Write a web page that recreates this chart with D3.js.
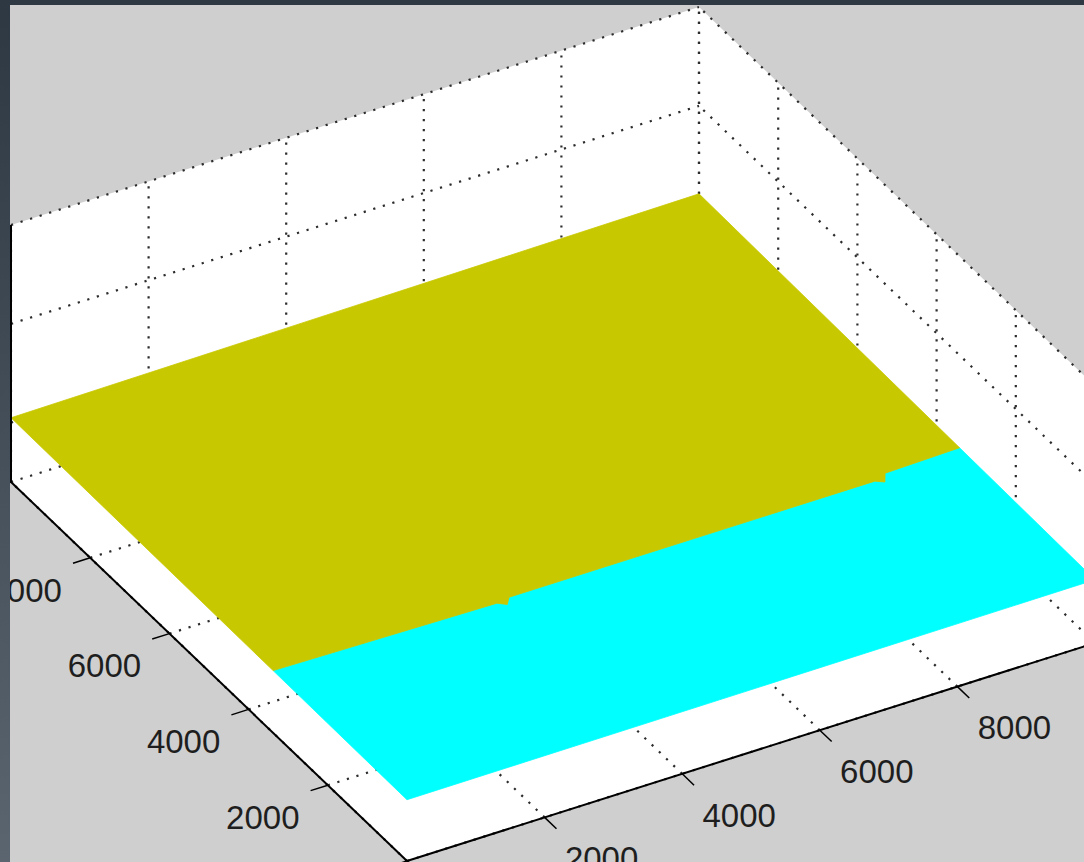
<!DOCTYPE html>
<html>
<head>
<meta charset="utf-8">
<script src="https://cdn.jsdelivr.net/npm/d3@7"></script>
<style>
  html, body { margin: 0; padding: 0; background: #cfcfcf; }
  svg { display: block; }
</style>
</head>
<body>
<svg id="chart" width="1084" height="862"></svg>
<script>
// ---- axis limits and ticks ----
const xLimits = [0, 10000];          // floor axis rising to the right
const yLimits = [0, 10000];          // floor axis rising to the left
const zLimits = [-0.6, 2];
const xTicks = [0, 2000, 4000, 6000, 8000, 10000];
const yTicks = [0, 2000, 4000, 6000, 8000, 10000];
const zTicks = [0, 1, 2];
// labelled ticks inside the visible frame
const xLabelTicks = [2000, 4000, 6000, 8000];
const yLabelTicks = [2000, 4000, 6000, 8000];
const xTickLabels = ["2000", "4000", "6000", "8000"];
const yTickLabels = ["2000", "4000", "6000", "8000"];

// ---- surface: corner heights on a coarse grid ----
const surfX = [0, 10000];
const surfY = [0, 10000];
const surfZ = [
  [0.02, 0.04],   // y = 0     (x = 0, x = 10000)
  [0.05, 0.11]    // y = 10000 (x = 0, x = 10000)
];

// boundary between the two colour bands of the surface
const bandEdgeX = [0, 3200, 3300, 3400, 8700, 8800, 8900, 10000];
const bandEdgeY = [3380, 3290, 3200, 3330, 3300, 3220, 3390, 3420];
const bandColors = ["#00ffff", "#c8c800"];   // low band, high band

// ---- view (orthographic camera expressed as screen basis vectors) ----
const W = 1084, H = 862;
const origin = [407, 861];      // (xmin, ymin, zmin)
const xVec = [688, -218];
const yVec = [-396, -379];
const zVec = [0, -257];

const sx = d3.scaleLinear().domain(xLimits).range([0, 1]);
const sy = d3.scaleLinear().domain(yLimits).range([0, 1]);
const sz = d3.scaleLinear().domain(zLimits).range([0, 1]);

function P(x, y, z) {
  const a = sx(x), b = sy(y), c = sz(z);
  return [origin[0] + a * xVec[0] + b * yVec[0] + c * zVec[0],
          origin[1] + a * xVec[1] + b * yVec[1] + c * zVec[1]];
}

const line = d3.line();
const svg = d3.select("#chart");

svg.append("rect").attr("width", W).attr("height", H).attr("fill", "#cfcfcf");

const [x0, x1] = xLimits, [y0, y1] = yLimits, [z0, z1] = zLimits;

// axes box background (walls + floor seen from above)
svg.append("path")
  .attr("d", line([P(x0, y1, z1), P(x1, y1, z1), P(x1, y0, z1),
                   P(x1, y0, z0), P(x0, y0, z0), P(x0, y1, z0)]) + "Z")
  .attr("fill", "#ffffff");

// dotted grid
const grid = svg.append("g")
  .attr("fill", "none")
  .attr("stroke", "#2c2c2c")
  .attr("stroke-width", 2.2)
  .attr("stroke-dasharray", "2.2 7.8");

// back wall at y = ymax
xTicks.forEach(t => grid.append("path").attr("d", line([P(t, y1, z0), P(t, y1, z1)])));
zTicks.forEach(t => grid.append("path").attr("d", line([P(x0, y1, t), P(x1, y1, t)])));
// back wall at x = xmax
yTicks.forEach(t => grid.append("path").attr("d", line([P(x1, t, z0), P(x1, t, z1)])));
zTicks.forEach(t => grid.append("path").attr("d", line([P(x1, y0, t), P(x1, y1, t)])));
// floor
xTicks.forEach(t => grid.append("path").attr("d", line([P(t, y0, z0), P(t, y1, z0)])));
yTicks.forEach(t => grid.append("path").attr("d", line([P(x0, t, z0), P(x1, t, z0)])));

// ---- surface ----
function zAt(x, y) {
  const u = (x - surfX[0]) / (surfX[1] - surfX[0]);
  const v = (y - surfY[0]) / (surfY[1] - surfY[0]);
  return (1 - v) * ((1 - u) * surfZ[0][0] + u * surfZ[0][1]) +
         v * ((1 - u) * surfZ[1][0] + u * surfZ[1][1]);
}
const edge = bandEdgeX.map((x, i) => [x, bandEdgeY[i]]);
const bands = [
  [[surfX[0], surfY[0]], [surfX[1], surfY[0]], ...edge.slice().reverse()],
  [...edge, [surfX[1], surfY[1]], [surfX[0], surfY[1]]]
];
svg.append("g").selectAll("path")
  .data(bands)
  .join("path")
  .attr("d", d => line(d.map(([x, y]) => P(x, y, zAt(x, y)))) + "Z")
  .attr("fill", (d, i) => bandColors[i])
  .attr("stroke", (d, i) => bandColors[i])
  .attr("stroke-width", 0.8)
  .attr("stroke-linejoin", "round");

// ---- axis lines and ticks ----
const axes = svg.append("g").attr("stroke", "#000").attr("fill", "none");
axes.append("path").attr("stroke-width", 2).attr("d", line([P(x0, y0, z0), P(x1, y0, z0)]));
axes.append("path").attr("stroke-width", 2).attr("d", line([P(x0, y0, z0), P(x0, y1, z0)]));
axes.append("path").attr("stroke-width", 2).attr("d", line([P(x0, y1, z0), P(x0, y1, z1)]));

const xTickLen = 300, yTickLen = 250;
xTicks.forEach(t => axes.append("path").attr("stroke-width", 1.5)
  .attr("d", line([P(t, y0, z0), P(t, y0 - xTickLen, z0)])));
yTicks.forEach(t => axes.append("path").attr("stroke-width", 1.5)
  .attr("d", line([P(x0, t, z0), P(x0 - yTickLen, t, z0)])));

// ---- tick labels ----
const labels = svg.append("g")
  .attr("font-family", "'Liberation Sans', Arial, sans-serif")
  .attr("font-size", 33)
  .attr("fill", "#1e1e1e")
  .attr("text-anchor", "middle");

xLabelTicks.forEach((t, i) => {
  const p = P(t, y0, z0);
  labels.append("text").attr("x", p[0] + 57).attr("y", p[1] + 41)
    .attr("dy", "0.36em").text(xTickLabels[i]);
});
yLabelTicks.forEach((t, i) => {
  const p = P(x0, t, z0);
  labels.append("text").attr("x", p[0] - 65).attr("y", p[1] + 32)
    .attr("dy", "0.36em").text(yTickLabels[i]);
});

// ---- window frame around the figure ----
const defs = svg.append("defs");
const grad = defs.append("linearGradient").attr("id", "frameShade")
  .attr("x1", 0).attr("y1", 0).attr("x2", 0).attr("y2", 1);
grad.append("stop").attr("offset", "0%").attr("stop-color", "#2d3843");
grad.append("stop").attr("offset", "100%").attr("stop-color", "#5a6570");
svg.append("rect").attr("x", 0).attr("y", 0).attr("width", W).attr("height", 5).attr("fill", "#2e3944");
svg.append("rect").attr("x", 0).attr("y", 0).attr("width", 10).attr("height", H).attr("fill", "url(#frameShade)");
</script>
</body>
</html>
